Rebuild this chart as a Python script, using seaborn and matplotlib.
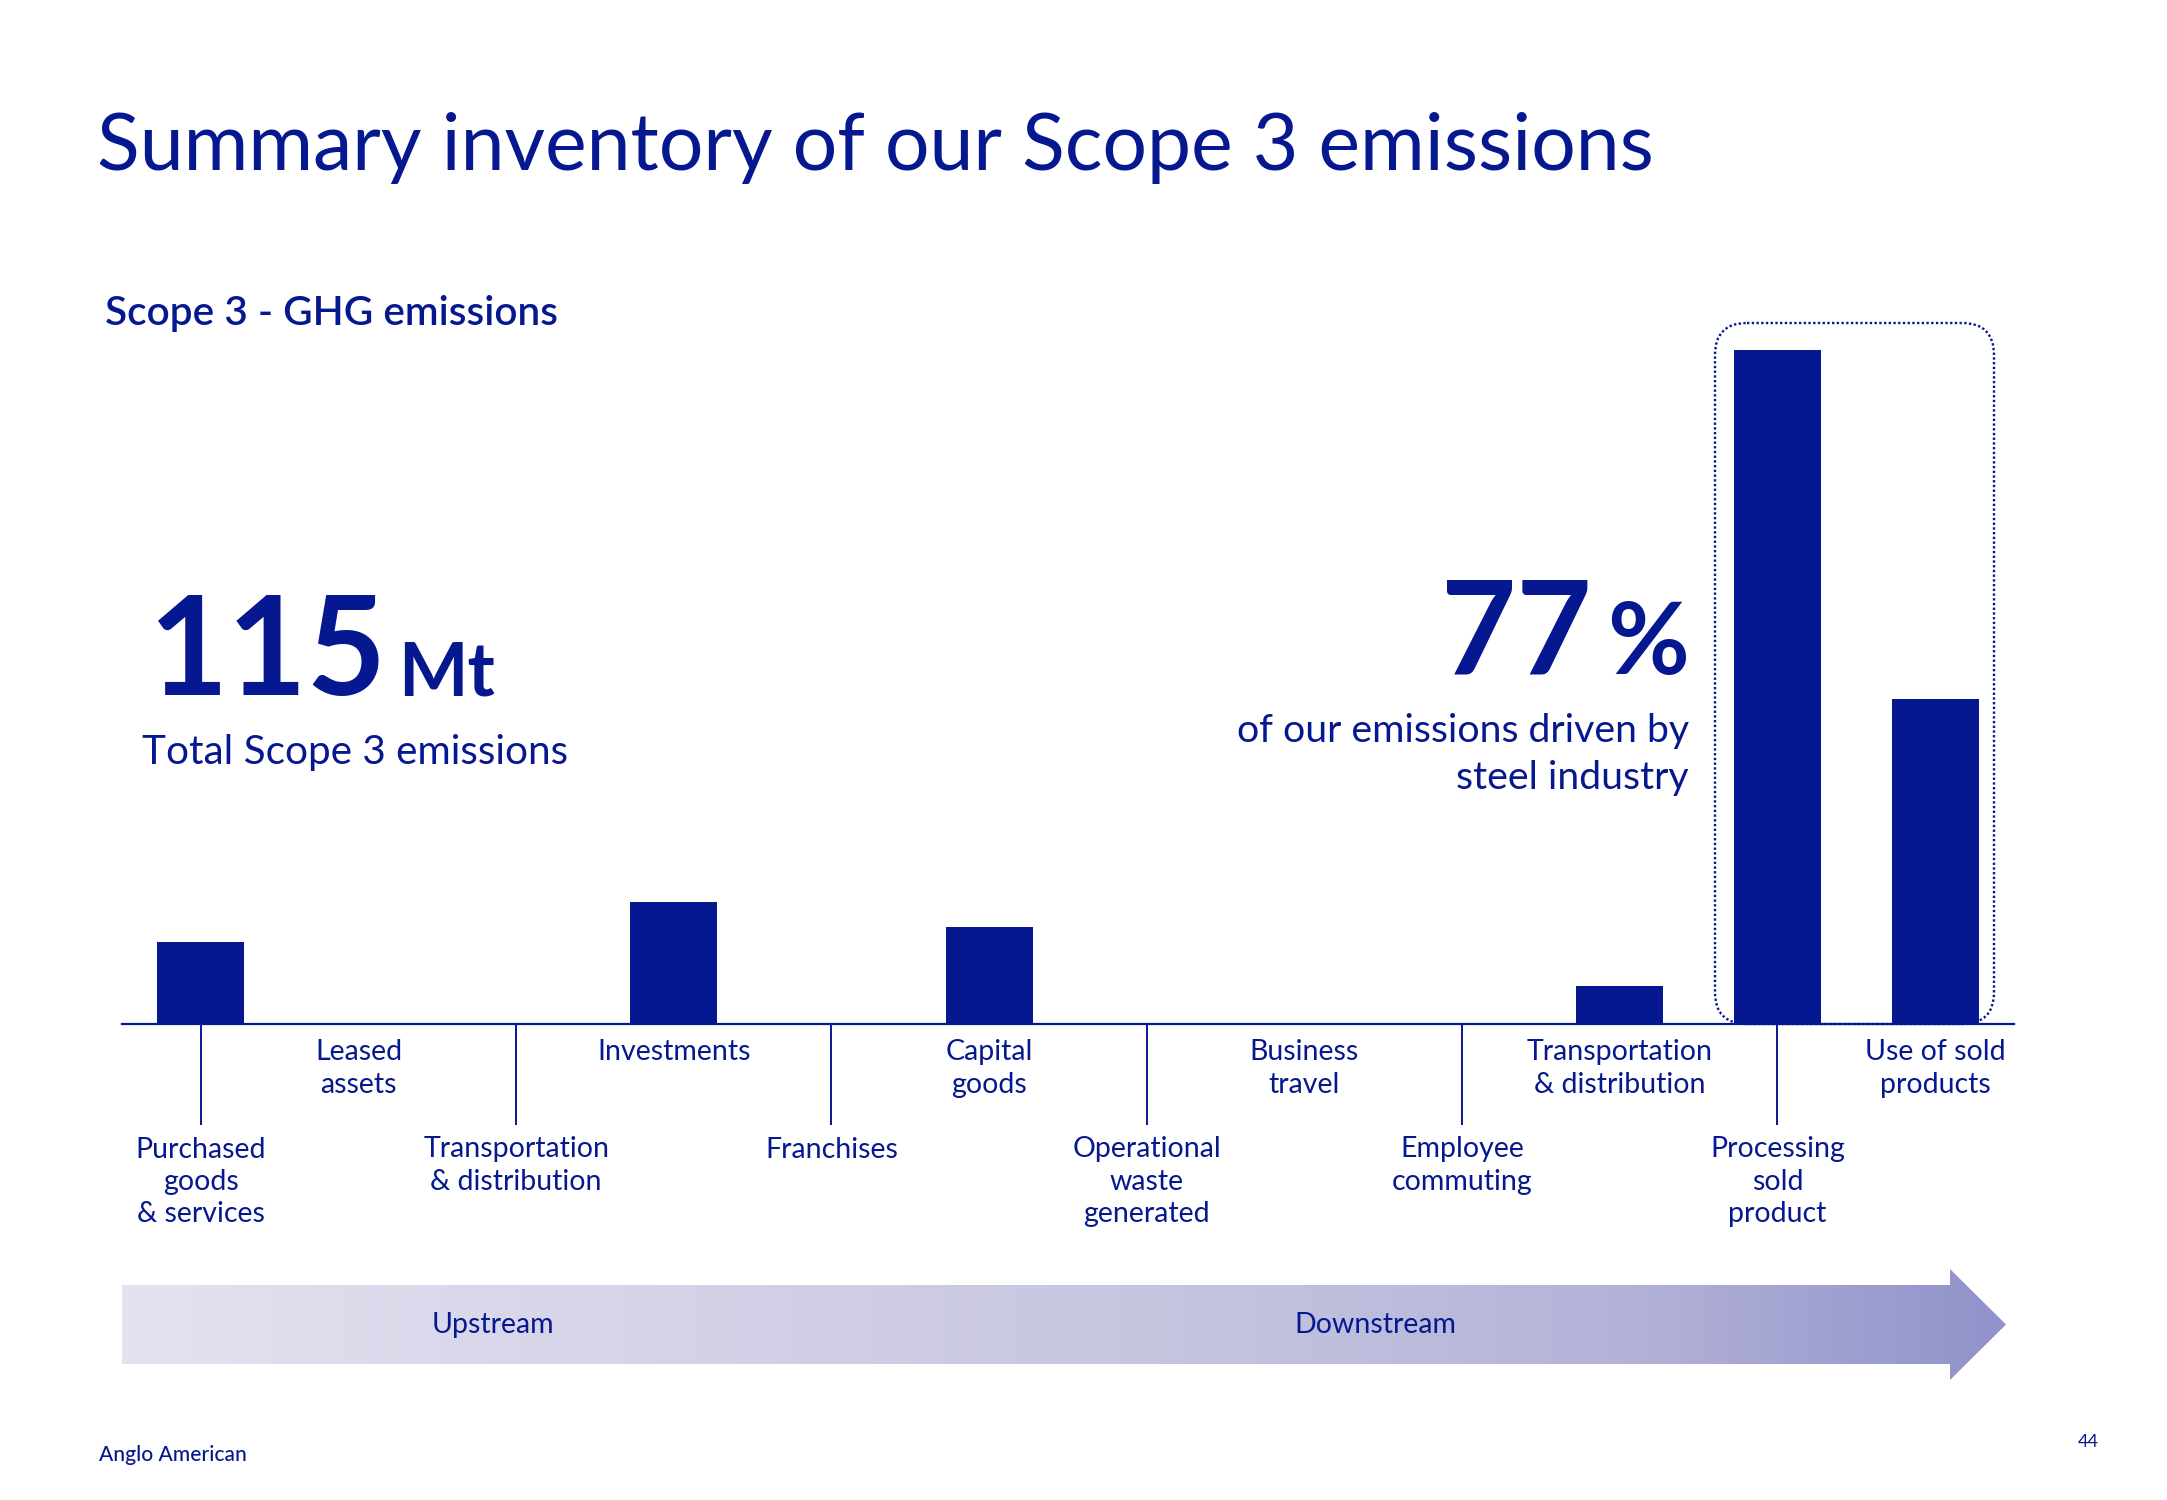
import matplotlib
matplotlib.use("Agg")
import matplotlib.pyplot as plt
import numpy as np
import pandas as pd
import seaborn as sns
from matplotlib.patches import FancyBboxPatch, Polygon
from matplotlib.colors import LinearSegmentedColormap

# Scope 3 categories, left to right (Mt CO2e)
categories = ["Purchased goods & services", "Leased assets", "Transportation & distribution (up)",
              "Investments", "Franchises", "Capital goods", "Operational waste generated",
              "Business travel", "Employee commuting", "Transportation & distribution (down)",
              "Processing sold product", "Use of sold products"]
labels = ["Purchased\ngoods\n& services", "Leased\nassets", "Transportation\n& distribution",
          "Investments", "Franchises", "Capital\ngoods", "Operational\nwaste\ngenerated",
          "Business\ntravel", "Employee\ncommuting", "Transportation\n& distribution",
          "Processing\nsold\nproduct", "Use of sold\nproducts"]
values = [7.0, 0.0, 0.1, 10.5, 0.0, 8.3, 0.1, 0.0, 0.0, 3.3, 57.8, 27.9]

total_text = "115"
steel_share = "77"

sns.set_style("white")
plt.rcParams["font.family"] = ["Lato", "DejaVu Sans"]

BLUE = "#06188f"
W, H = 2167, 1500
fig = plt.figure(figsize=(W / 100, H / 100), dpi=100)


def fit(t, width):
    # scale a text so it spans the given pixel width
    r = fig.canvas.get_renderer()
    w = t.get_window_extent(r).width
    t.set_fontsize(t.get_fontsize() * width / w)


# background axes in pixel coordinates for the slide decorations
bg = fig.add_axes([0, 0, 1, 1])
bg.axis("off")

# upstream -> downstream arrow with gradient
cmap = LinearSegmentedColormap.from_list(
    "flow", [(0, "#e3e2f0"), (0.55, "#c6c5e0"), (0.8, "#b3b3d8"), (1, "#9092ca")])
grad = np.linspace(0, 1, 512)[None, :]
im = bg.imshow(grad, cmap=cmap, extent=(122, 2006, 1380, 1269), aspect="auto", zorder=0)
arrow = Polygon([(122, 1285), (1950, 1285), (1950, 1269), (2006, 1324.5),
                 (1950, 1380), (1950, 1364), (122, 1364)], closed=True,
                facecolor="none", edgecolor="none")
bg.add_patch(arrow)
im.set_clip_path(arrow)
bg.set_xlim(0, W)
bg.set_ylim(H, 0)

bg.text(493, 1325, "Upstream", ha="center", va="center", fontsize=20.5, color=BLUE)
bg.text(1375, 1325, "Downstream", ha="center", va="center", fontsize=20.5, color=BLUE)

# dotted frame around the steel-related categories
frame = FancyBboxPatch((1715, 323), 279, 701, boxstyle="round,pad=0,rounding_size=32",
                       fill=False, edgecolor=BLUE, linestyle=(0, (1, 1)), linewidth=1.7)
bg.add_patch(frame)

# headings
t = bg.text(97, 170, "Summary inventory of our Scope 3 emissions", fontsize=56,
            fontweight="normal", color=BLUE, va="baseline")
fit(t, 1557)
t = bg.text(105, 325, "Scope 3 - GHG emissions", fontsize=28, fontweight="semibold",
            color=BLUE, va="baseline")
fit(t, 452)

# key figures
t = bg.text(149, 695, total_text, fontsize=95, fontweight="bold", color=BLUE, va="baseline")
fit(t, 238)
t = bg.text(398, 695, "Mt", fontsize=60, fontweight="bold", color=BLUE, va="baseline")
fit(t, 97)
t = bg.text(142, 764, "Total Scope 3 emissions", fontsize=30, color=BLUE, va="baseline")
fit(t, 426)

t = bg.text(1592, 674, steel_share, fontsize=95, fontweight="bold", color=BLUE,
            va="baseline", ha="right")
fit(t, 151)
t = bg.text(1689, 674, "%", fontsize=60, fontweight="bold", color=BLUE, va="baseline", ha="right")
fit(t, 82)
t = bg.text(1689, 742, "of our emissions driven by", fontsize=30, color=BLUE,
            va="baseline", ha="right")
fit(t, 452)
bg.text(1689, 789, "steel industry", fontsize=t.get_fontsize(), color=BLUE,
        va="baseline", ha="right")

# footer
t = bg.text(99, 1461, "Anglo American", fontsize=14, fontweight="medium", color=BLUE,
            va="baseline")
fit(t, 148)
bg.text(2099, 1447, "44", fontsize=13, color=BLUE, va="baseline", ha="right")

# bar chart
ax = fig.add_axes([122 / W, (H - 1024) / H, (2014 - 122) / W, 702 / H])
ax.patch.set_alpha(0)

df = pd.DataFrame({"category": categories, "value": values})
sns.barplot(data=df, x="category", y="value", order=categories, color=BLUE,
            saturation=1, width=0.55, linewidth=0, ax=ax)

ax.set_xlim(-0.5, 11.5)
ax.set_ylim(0, 60.2)
ax.set_yticks([])
ax.set_xlabel("")
ax.set_ylabel("")
sns.despine(ax=ax, left=True)
ax.spines["bottom"].set_color(BLUE)
ax.spines["bottom"].set_linewidth(1.6)

ax.set_xticks(range(0, 12, 2), labels[0::2])
ax.set_xticks(range(1, 12, 2), labels[1::2], minor=True)
ax.tick_params(axis="x", which="major", bottom=True, direction="out", length=73,
               width=1.4, color=BLUE, pad=8, labelsize=20.5, labelcolor=BLUE)
ax.tick_params(axis="x", which="minor", bottom=True, length=0, pad=11,
               labelsize=20.5, labelcolor=BLUE)
for lab in ax.get_xticklabels(minor=False) + ax.get_xticklabels(minor=True):
    lab.set_linespacing(1.3)

fig.savefig("out.png", dpi=100)
